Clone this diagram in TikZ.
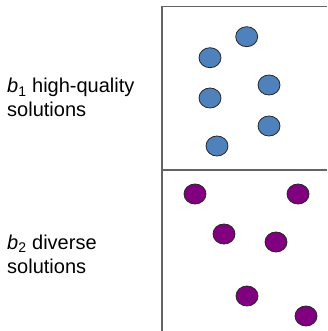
\documentclass[tikz,border=0pt]{standalone}
\usepackage{fontspec}
\setmainfont{Liberation Sans}
\usepackage{xcolor}
\usetikzlibrary{shapes.geometric}

\definecolor{frame}{RGB}{100,100,100}
\definecolor{goodblue}{RGB}{79,129,189}
\definecolor{divpurple}{RGB}{128,0,128}

\tikzset{
    good/.style={ellipse, draw=black!85, line width=0.8pt, fill=goodblue,
        minimum width=22pt, minimum height=20pt, inner sep=0pt},
    diverse/.style={ellipse, draw=black!85, line width=0.8pt, fill=divpurple,
        minimum width=22pt, minimum height=20pt, inner sep=0pt},
    label/.style={anchor=base west, align=left, inner sep=0pt,
        font=\fontsize{20}{24}\selectfont}
}

\begin{document}
\begin{tikzpicture}[x=1pt, y=-1pt]
    \useasboundingbox (0,0) rectangle (327,331);

    % frame corners
    \coordinate (TL) at (162,6.5);
    \coordinate (TR) at (327,6.5);
    \coordinate (ML) at (162,170);
    \coordinate (MR) at (327,170);
    \coordinate (BL) at (162,331);

    % frame lines
    \draw[frame, line width=1.3pt] (BL) -- (TL) -- (TR);
    \draw[frame, line width=1.3pt] (ML) -- (MR);

    % b1 high-quality solutions
    \node[good] (g1) at (246.7,36.7) {};
    \node[good] (g2) at (210,57.7) {};
    \node[good] (g3) at (269,85) {};
    \node[good] (g4) at (210,98) {};
    \node[good] (g5) at (269,126) {};
    \node[good] (g6) at (217,146) {};

    % b2 diverse solutions
    \node[diverse] (d1) at (195,194) {};
    \node[diverse] (d2) at (298,194) {};
    \node[diverse] (d3) at (224,234) {};
    \node[diverse] (d4) at (276,242) {};
    \node[diverse] (d5) at (247,296) {};
    \node[diverse] (d6) at (306,316) {};

    % labels (base = last line)
    \node[label] (lab1) at (7,117) {\textit{b}\textsubscript{1} high-quality\\solutions};
    \node[label] (lab2) at (7,273) {\textit{b}\textsubscript{2} diverse\\solutions};
\end{tikzpicture}
\end{document}
